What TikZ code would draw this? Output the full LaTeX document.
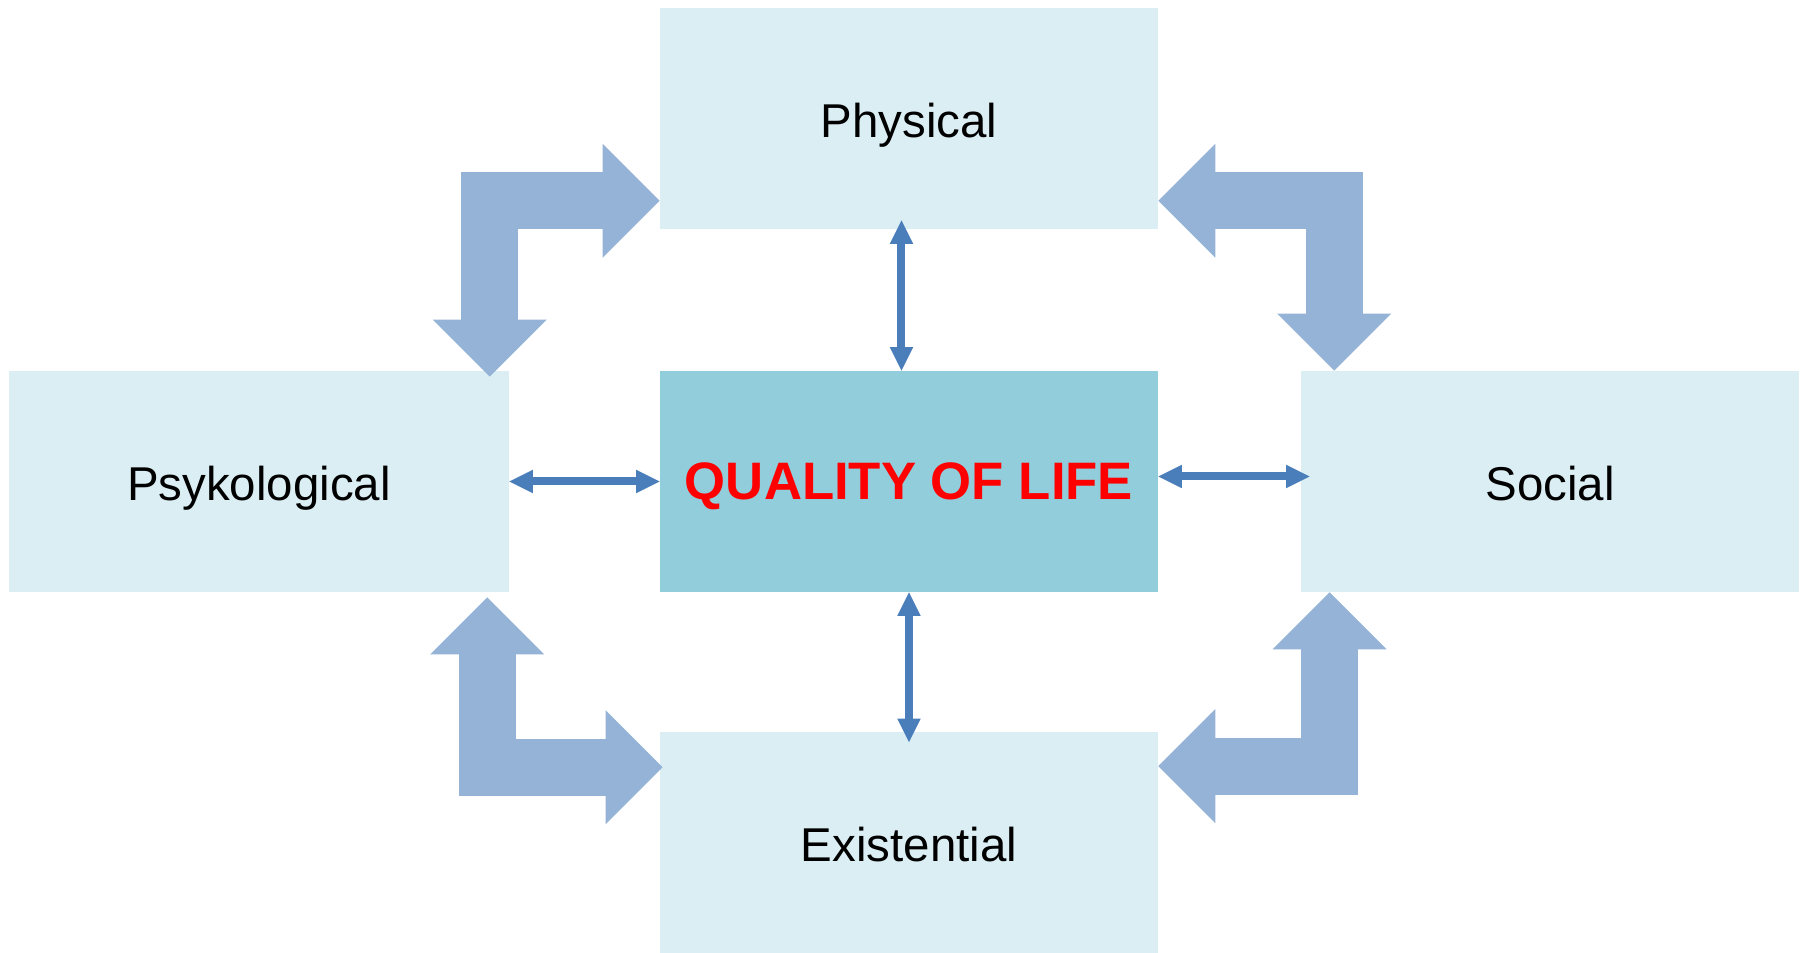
\documentclass[tikz,border=0pt]{standalone}
\usepackage{fontspec}
\setsansfont{Liberation Sans}
\usepackage{tikz}
\usetikzlibrary{arrows.meta}

\definecolor{boxlight}{RGB}{218,238,243}
\definecolor{boxmid}{RGB}{146,205,220}
\definecolor{elbowblue}{RGB}{149,179,215}
\definecolor{linkblue}{RGB}{74,126,187}

\begin{document}
\begin{tikzpicture}[font=\sffamily,
	area/.style={fill=boxlight,shape=rectangle,inner sep=0pt,minimum width=9.96cm,minimum height=4.42cm,text height=21.4pt,text depth=0pt,font=\sffamily\fontsize{27}{32}\selectfont},
	elbow/.style={draw=elbowblue,line width=1.14cm,line join=miter,
		arrows={Triangle[length=1.14cm,width=2.28cm,line width=0pt]-Triangle[length=1.14cm,width=2.28cm,line width=0pt]}},
	link/.style={draw=linkblue,line width=0.16cm,
		arrows={Triangle[length=0.47cm,width=0.47cm,line width=0pt]-Triangle[length=0.47cm,width=0.47cm,line width=0pt]}}]
		\useasboundingbox (-18.18,9.63) rectangle (17.92,-9.43);
		%%%
		\node[area,fill=boxmid,text height=20.6pt,font=\sffamily\bfseries\fontsize{30}{36}\selectfont,text=red] (quality) at (0,0) {QUALITY OF LIFE};
		\node[area] (physical) at (0,7.26) {Physical};
		\node[area] (existential) at (0,-7.23) {Existential};
		\node[area,minimum width=10cm] (psyk) at (-13,0) {Psykological};
		\node[area] (social) at (12.82,0) {Social};
		%%%
		\draw[elbow] ([shift={(-0.39,-0.12)}]psyk.north east) |- ([yshift=0.57cm]physical.south west);
		\draw[elbow] ([yshift=0.57cm]physical.south east) -| ([shift={(0.67,0)}]social.north west);
		\draw[elbow] ([shift={(-0.44,-0.1)}]psyk.south east) |- ([shift={(0.06,-0.7)}]existential.north west);
		\draw[elbow] ([xshift=0.58cm]social.south west) |- ([yshift=-0.68cm]existential.north east);
		%%%
		\draw[link] (psyk.east) -- (quality.west);
		\draw[link] ([yshift=0.1cm]quality.east) -- ([shift={(0.18,0.1)}]social.west);
		\draw[link] ([xshift=-0.15cm]quality.north) -- ([shift={(-0.15,0.18)}]physical.south);
		\draw[link] (quality.south) -- ([yshift=-0.2cm]existential.north);
	\end{tikzpicture}
\end{document}
